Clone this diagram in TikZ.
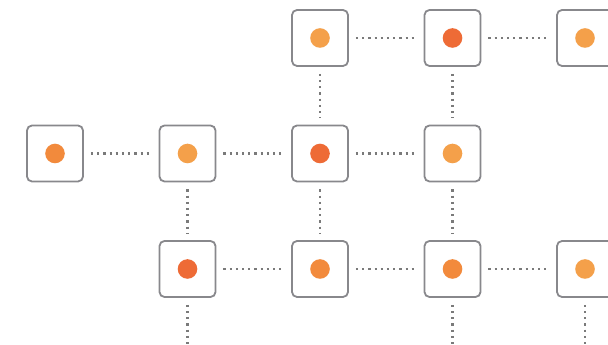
\documentclass[tikz,border=0pt]{standalone}
\usepackage{xcolor}
\definecolor{dotlight}{HTML}{F4A04A}
\definecolor{dotmid}{HTML}{F28A3C}
\definecolor{dotdark}{HTML}{EE6B36}
\definecolor{boxgray}{HTML}{88888C}
\definecolor{linkgray}{HTML}{7A7A7A}
\tikzset{
  cell/.style={draw=boxgray, line width=1.8pt, rounded corners=5pt, fill=white,
    minimum size=56pt, inner sep=0pt},
  link/.style={linkgray, line width=2.2pt, dash pattern=on 2.2pt off 4pt,
    shorten <=7pt, shorten >=7pt}
}
\begin{document}
\begin{tikzpicture}[x=1pt,y=1pt]
  \useasboundingbox (0,0) rectangle (608,345);
  \clip (0,0) rectangle (608,345);

  % Cells: column/row/dot colour
  \foreach \c/\r/\col in {3/1/dotlight, 4/1/dotdark, 5/1/dotlight,
      1/2/dotmid, 2/2/dotlight, 3/2/dotdark, 4/2/dotlight,
      2/3/dotdark, 3/3/dotmid, 4/3/dotmid, 5/3/dotlight} {
    \node[cell] (n-\c-\r) at ({55+132.5*(\c-1)}, {307-115.5*(\r-1)}) {};
    \fill[\col] (n-\c-\r.center) circle (9.8); % Dot
  }

  % Open ends below the last row
  \foreach \c in {2,4,5}
    \coordinate (e-\c) at ({55+132.5*(\c-1)}, -10);

  % Horizontal links
  \foreach \a/\b in {n-3-1/n-4-1, n-4-1/n-5-1, n-1-2/n-2-2, n-2-2/n-3-2,
      n-3-2/n-4-2, n-2-3/n-3-3, n-3-3/n-4-3, n-4-3/n-5-3}
    \draw[link] (\a) -- (\b);

  % Vertical links
  \foreach \a/\b in {n-3-1/n-3-2, n-4-1/n-4-2, n-2-2/n-2-3, n-3-2/n-3-3,
      n-4-2/n-4-3, n-2-3/e-2, n-4-3/e-4, n-5-3/e-5}
    \draw[link] (\a) -- (\b);
\end{tikzpicture}
\end{document}
